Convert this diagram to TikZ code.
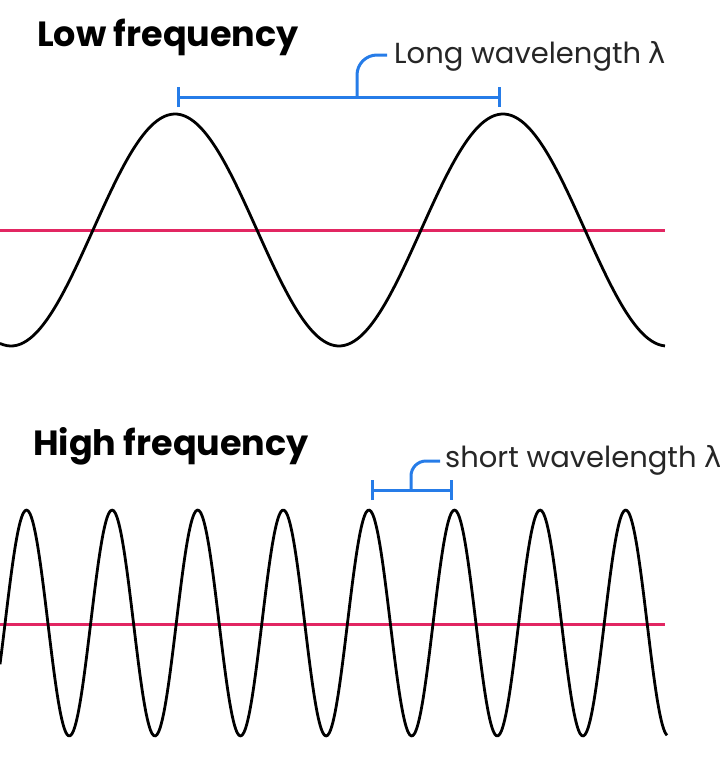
\documentclass[tikz,border=0pt]{standalone}
\usepackage{fontspec}
\setmainfont{Poppins}
\newfontfamily\greekfont{DejaVu Sans}
\usetikzlibrary{arrows.meta}
\definecolor{markblue}{RGB}{38,124,232}
\definecolor{axispink}{RGB}{226,38,98}
\tikzset{
  wave/.style={line width=2.8pt,line join=round,smooth},
  midline/.style={line width=3pt,axispink},
  bracket/.style={line width=3pt,markblue},
  title/.style={font=\fontsize{35}{40}\selectfont\bfseries,anchor=base west,inner sep=0pt},
  note/.style={font=\fontsize{29}{32}\selectfont,anchor=base west,inner sep=0pt,text=black!85}
}
\begin{document}
\begin{tikzpicture}[x=1pt,y=-1pt]
  \useasboundingbox (0,0) rectangle (720,769);
  % low frequency: period 328
  \node[title] (lowtitle) at (37,46) {Low frequency};
  \draw[midline] (0,230) -- (665,230);
  \draw[wave,domain=0:665,samples=200,variable=\x]
    plot ({\x},{230-116*cos((\x-175)*1.09756)});
  \coordinate (la) at (177,97);
  \coordinate (lb) at (501,97);
  \coordinate (lfoot) at (357,97);
  \draw[bracket,{Bar[width=20pt]}-{Bar[width=20pt]}] (la) -- (lb);
  \node[note] (longlabel) at (394,63) {Long wavelength {\greekfont λ}};
  \draw[bracket,rounded corners=20pt] (lfoot) |- ([xshift=-7pt,yshift=8pt]longlabel.base west);
  % high frequency: period 85.6
  \node[title] (hightitle) at (33,455) {High frequency};
  \draw[midline] (0,624) -- (665,624);
  \draw[wave,domain=0:667,samples=400,variable=\x]
    plot ({\x},{623-113*cos((\x-26.5)*4.20561)});
  \coordinate (sa) at (371,490);
  \coordinate (sb) at (453,490);
  \coordinate (sfoot) at (411,490);
  \draw[bracket,{Bar[width=20pt]}-{Bar[width=20pt]}] (sa) -- (sb);
  \node[note] (shortlabel) at (445,467) {short wavelength {\greekfont λ}};
  \draw[bracket,rounded corners=15pt] (sfoot) |- ([xshift=-5pt,yshift=6pt]shortlabel.base west);
\end{tikzpicture}
\end{document}
